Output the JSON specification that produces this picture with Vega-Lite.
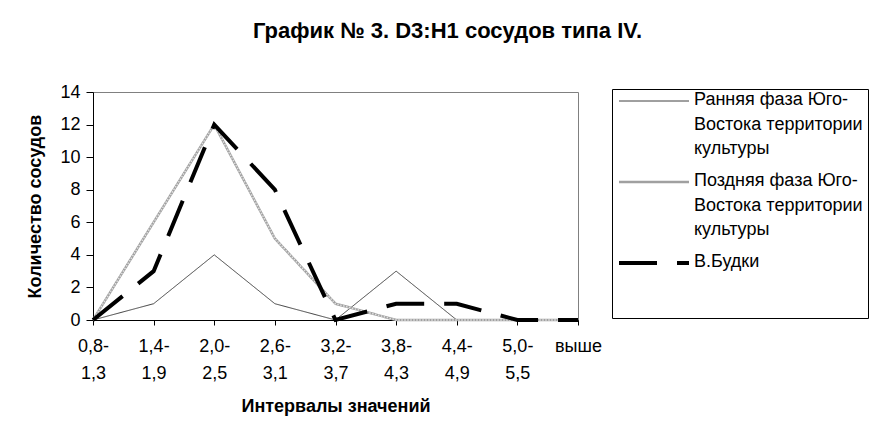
{
  "$schema": "https://vega.github.io/schema/vega-lite/v6.json",
  "width": 485,
  "height": 228,
  "autosize": "none",
  "padding": {"left": 93, "top": 92, "right": 302, "bottom": 106},
  "background": "white",
  "title": {
    "text": "График № 3. D3:H1 сосудов типа IV.",
    "font": "Liberation Sans",
    "fontSize": 22,
    "fontWeight": "bold",
    "color": "#000000",
    "anchor": "middle",
    "dx": 112,
    "offset": 40
  },
  "config": {
    "view": {"stroke": "#808080", "strokeWidth": 1},
    "font": "Liberation Sans"
  },
  "data": {
    "values": [
      {"cat": "0,8- 1,3", "series": "Ранняя фаза Юго-Востока территории культуры", "value": 0},
      {"cat": "1,4- 1,9", "series": "Ранняя фаза Юго-Востока территории культуры", "value": 1},
      {"cat": "2,0- 2,5", "series": "Ранняя фаза Юго-Востока территории культуры", "value": 4},
      {"cat": "2,6- 3,1", "series": "Ранняя фаза Юго-Востока территории культуры", "value": 1},
      {"cat": "3,2- 3,7", "series": "Ранняя фаза Юго-Востока территории культуры", "value": 0},
      {"cat": "3,8- 4,3", "series": "Ранняя фаза Юго-Востока территории культуры", "value": 3},
      {"cat": "4,4- 4,9", "series": "Ранняя фаза Юго-Востока территории культуры", "value": 0},
      {"cat": "5,0- 5,5", "series": "Ранняя фаза Юго-Востока территории культуры", "value": 0},
      {"cat": "выше", "series": "Ранняя фаза Юго-Востока территории культуры", "value": 0},
      {"cat": "0,8- 1,3", "series": "Поздняя фаза Юго-Востока территории культуры", "value": 0},
      {"cat": "1,4- 1,9", "series": "Поздняя фаза Юго-Востока территории культуры", "value": 6},
      {"cat": "2,0- 2,5", "series": "Поздняя фаза Юго-Востока территории культуры", "value": 12},
      {"cat": "2,6- 3,1", "series": "Поздняя фаза Юго-Востока территории культуры", "value": 5},
      {"cat": "3,2- 3,7", "series": "Поздняя фаза Юго-Востока территории культуры", "value": 1},
      {"cat": "3,8- 4,3", "series": "Поздняя фаза Юго-Востока территории культуры", "value": 0},
      {"cat": "4,4- 4,9", "series": "Поздняя фаза Юго-Востока территории культуры", "value": 0},
      {"cat": "5,0- 5,5", "series": "Поздняя фаза Юго-Востока территории культуры", "value": 0},
      {"cat": "выше", "series": "Поздняя фаза Юго-Востока территории культуры", "value": 0},
      {"cat": "0,8- 1,3", "series": "В.Будки", "value": 0},
      {"cat": "1,4- 1,9", "series": "В.Будки", "value": 3},
      {"cat": "2,0- 2,5", "series": "В.Будки", "value": 12},
      {"cat": "2,6- 3,1", "series": "В.Будки", "value": 8},
      {"cat": "3,2- 3,7", "series": "В.Будки", "value": 0},
      {"cat": "3,8- 4,3", "series": "В.Будки", "value": 1},
      {"cat": "4,4- 4,9", "series": "В.Будки", "value": 1},
      {"cat": "5,0- 5,5", "series": "В.Будки", "value": 0},
      {"cat": "выше", "series": "В.Будки", "value": 0}
    ]
  },
  "encoding": {
    "x": {
      "field": "cat",
      "type": "ordinal",
      "sort": null,
      "scale": {"type": "point", "padding": 0},
      "axis": {
        "title": "Интервалы значений",
        "titleFont": "Liberation Sans",
        "titleFontSize": 18,
        "titleFontWeight": "bold",
        "titleColor": "#000000",
        "titlePadding": 15,
        "labelAngle": 0,
        "labelFont": "Liberation Sans",
        "labelFontSize": 18,
        "labelColor": "#000000",
        "labelPadding": 12,
        "labelLineHeight": 27,
        "labelExpr": "split(datum.label, ' ')",
        "domainColor": "#000000",
        "tickColor": "#000000",
        "tickSize": 5,
        "grid": false
      }
    },
    "y": {
      "field": "value",
      "type": "quantitative",
      "scale": {"domain": [0, 14]},
      "axis": {
        "title": "Количество сосудов",
        "titleFont": "Liberation Sans",
        "titleFontSize": 18,
        "titleFontWeight": "bold",
        "titleColor": "#000000",
        "titlePadding": 15,
        "values": [0, 2, 4, 6, 8, 10, 12, 14],
        "labelFont": "Liberation Sans",
        "labelFontSize": 18,
        "labelColor": "#000000",
        "labelPadding": 6,
        "domainColor": "#000000",
        "tickColor": "#000000",
        "tickSize": 7,
        "grid": false
      }
    }
  },
  "layer": [
    {
      "transform": [{"filter": "datum.series != 'В.Будки'"}],
      "mark": {"type": "line", "strokeJoin": "miter", "strokeCap": "butt"},
      "encoding": {
        "color": {
          "field": "series",
          "type": "nominal",
          "sort": null,
          "scale": {
            "domain": ["Ранняя фаза Юго-Востока территории культуры", "Поздняя фаза Юго-Востока территории культуры", "В.Будки"],
            "range": ["#404040", "#a0a0a0", "#000000"]
          },
          "legend": {
            "title": " ",
            "titleOrient": "bottom",
            "titleFontSize": 30,
            "titlePadding": 12,
            "orient": "none",
            "legendX": 519,
            "legendY": -3,
            "strokeColor": "#000000",
            "fillColor": "#ffffff",
            "padding": 5,
            "symbolType": "stroke",
            "symbolSize": 4900,
            "symbolOffset": 0,
            "labelFont": "Liberation Sans",
            "labelFontSize": 18,
            "labelColor": "#000000",
            "labelOffset": 3,
            "labelLimit": 300,
            "labelBaseline": "top",
            "rowPadding": 14,
            "labelExpr": "indexof(datum.label, 'Ранняя') == 0 ? ['Ранняя фаза Юго-', 'Востока территории', 'культуры'] : indexof(datum.label, 'Поздняя') == 0 ? ['Поздняя фаза Юго-', 'Востока территории', 'культуры'] : datum.label",
            "encode": {
              "labels": {"update": {"lineHeight": {"value": 24.5}, "y": {"value": -3}}},
              "symbols": {"update": {"y": {"value": 7}}}
            }
          }
        },
        "strokeDash": {
          "field": "series",
          "type": "nominal",
          "sort": null,
          "scale": {
            "domain": ["Ранняя фаза Юго-Востока территории культуры", "Поздняя фаза Юго-Востока территории культуры", "В.Будки"],
            "range": [[1, 0], [1, 0], [38, 20]]
          }
        },
        "strokeWidth": {
          "field": "series",
          "type": "nominal",
          "sort": null,
          "scale": {
            "domain": ["Ранняя фаза Юго-Востока территории культуры", "Поздняя фаза Юго-Востока территории культуры", "В.Будки"],
            "range": [1, 4, 4]
          }
        }
      }
    },
    {
      "transform": [{"filter": "datum.series == 'Поздняя фаза Юго-Востока территории культуры'"}],
      "mark": {"type": "line", "stroke": "#e0e0e0", "strokeWidth": 1.5, "strokeDash": [1.5, 1.5], "strokeJoin": "miter", "strokeCap": "butt"},
      "encoding": {}
    },
    {
      "transform": [{"filter": "datum.series == 'В.Будки'"}],
      "mark": {"type": "line", "strokeJoin": "miter", "strokeCap": "butt"},
      "encoding": {
        "color": {"field": "series", "type": "nominal", "sort": null},
        "strokeDash": {"field": "series", "type": "nominal", "sort": null},
        "strokeWidth": {"field": "series", "type": "nominal", "sort": null}
      }
    }
  ]
}
